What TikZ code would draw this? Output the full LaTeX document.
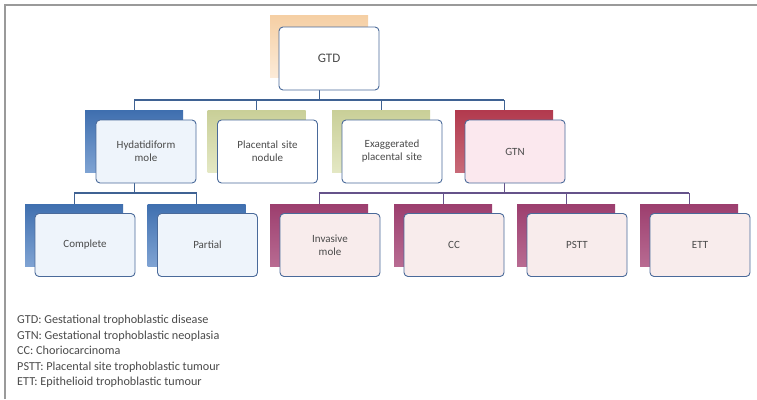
\documentclass[tikz,border=0pt]{standalone}
\usepackage{fontspec}
\setmainfont{Carlito}
\usetikzlibrary{calc}
\definecolor{frameg}{HTML}{9A9A9A}
\definecolor{boxline}{HTML}{4A6A9A}
\definecolor{txt}{HTML}{4A4A4A}
\definecolor{busblue}{HTML}{3F6293}
\definecolor{buspurple}{HTML}{65528A}
\definecolor{bluedark}{HTML}{3F6FAF}
\definecolor{bluelight}{HTML}{7FA3D3}
\definecolor{olivedark}{HTML}{C9CF98}
\definecolor{olivelight}{HTML}{E4E8C4}
\definecolor{reddark}{HTML}{B23A4E}
\definecolor{redlight}{HTML}{C86A78}
\definecolor{purpdark}{HTML}{9C3E6E}
\definecolor{purplight}{HTML}{B86B92}
\definecolor{orangedark}{HTML}{F5CFA4}
\definecolor{orangelight}{HTML}{FCEBD8}
\definecolor{fillblue}{HTML}{EEF4FB}
\definecolor{fillpink}{HTML}{F8ECEC}
\definecolor{fillrose}{HTML}{FBE8EE}
\begin{document}
\begin{tikzpicture}[x=1pt,y=-1pt,
  frontbox/.style={draw=boxline, line width=0.9pt, rounded corners=4pt,
    minimum width=100pt, minimum height=63pt, inner sep=2pt, align=center,
    text width=94pt, text=txt, font=\fontsize{11}{13}\selectfont},
  shadbox/.style={minimum width=98pt, minimum height=62pt, inner sep=0pt},
  blueshad/.style={shadbox, top color=bluedark, bottom color=bluelight},
  oliveshad/.style={shadbox, top color=olivedark, bottom color=olivelight},
  redshad/.style={shadbox, top color=reddark, bottom color=redlight},
  purpshad/.style={shadbox, top color=purpdark, bottom color=purplight},
  orangeshad/.style={shadbox, top color=orangedark, bottom color=orangelight},
  busline/.style={line width=1.3pt},
]
\useasboundingbox (0,0) rectangle (757,399);
% frame
\draw[frameg, line width=1.5pt] (5,399) -- (5,5) -- (757,5);

% shadows
\node[orangeshad] (sGTD) at (319,46.5) {};
\node[blueshad] (sHyd) at (134,141.5) {};
\node[oliveshad] (sPla) at (256.5,141.5) {};
\node[oliveshad] (sExa) at (381,141.5) {};
\node[redshad] (sGTN) at (504,141.5) {};
\node[blueshad] (sCom) at (74,235) {};
\node[blueshad] (sPar) at (196.5,235) {};
\node[purpshad] (sInv) at (319,235) {};
\node[purpshad] (sCC) at (443,235) {};
\node[purpshad] (sPST) at (566,235) {};
\node[purpshad] (sETT) at (689,235) {};

% buses
\coordinate (bus1) at (0,100);
\coordinate (bus2) at (0,193);
\draw[busblue, busline] (sHyd.north |- bus1) -- (sGTN.north |- bus1);
\draw[busblue, line width=0.8pt] (sGTD.center |- 0,90) -- (sGTD.center |- bus1);
\foreach \n in {sHyd,sPla,sExa,sGTN}
  \draw[busblue, line width=0.6pt] (\n.north |- bus1) -- (\n.north);
\draw[busblue, busline] (sCom.north |- bus2) -- (sPar.north |- bus2);
\draw[busblue, line width=0.8pt] (sHyd.center |- 0,183) -- (sHyd.center |- bus2);
\foreach \n in {sCom,sPar}
  \draw[busblue, line width=0.6pt] (\n.north |- bus2) -- (\n.north);
\draw[buspurple, busline] (sInv.north |- bus2) -- (sETT.north |- bus2);
\draw[buspurple, line width=0.8pt] (sGTN.center |- 0,183) -- (sGTN.center |- bus2);
\foreach \n in {sInv,sCC,sPST,sETT}
  \draw[buspurple, line width=0.6pt] (\n.north |- bus2) -- (\n.north);

% front boxes
\node[frontbox, fill=white, font=\fontsize{13}{15}\selectfont] (GTD) at (329,58.5) {GTD};
\node[frontbox, fill=fillblue] (Hyd) at (146,151.5) {Hydatidiform\\mole};
\node[frontbox, fill=white] (Pla) at (267.5,151.5) {Placental site\\nodule};
\node[frontbox, fill=white] (Exa) at (392,151.5) {Exaggerated\\placental site};
\node[frontbox, fill=fillrose] (GTN) at (515,151.5) {GTN};
\node[frontbox, fill=fillblue] (Com) at (85,245) {Complete};
\node[frontbox, fill=fillblue] (Par) at (207.5,245) {Partial};
\node[frontbox, fill=fillpink] (Inv) at (330,245) {Invasive\\mole};
\node[frontbox, fill=fillpink] (CC) at (454,245) {CC};
\node[frontbox, fill=fillpink] (PST) at (577,245) {PSTT};
\node[frontbox, fill=fillpink] (ETT) at (700,245) {ETT};

% legend
\node[anchor=north west, align=left, inner sep=0pt, text=txt,
  font=\fontsize{12.2}{15.5}\selectfont] (legend) at (17,315) {%
GTD: Gestational trophoblastic disease\\
GTN: Gestational trophoblastic neoplasia\\
CC: Choriocarcinoma\\
PSTT: Placental site trophoblastic tumour\\
ETT: Epithelioid trophoblastic tumour};
\end{tikzpicture}
\end{document}
